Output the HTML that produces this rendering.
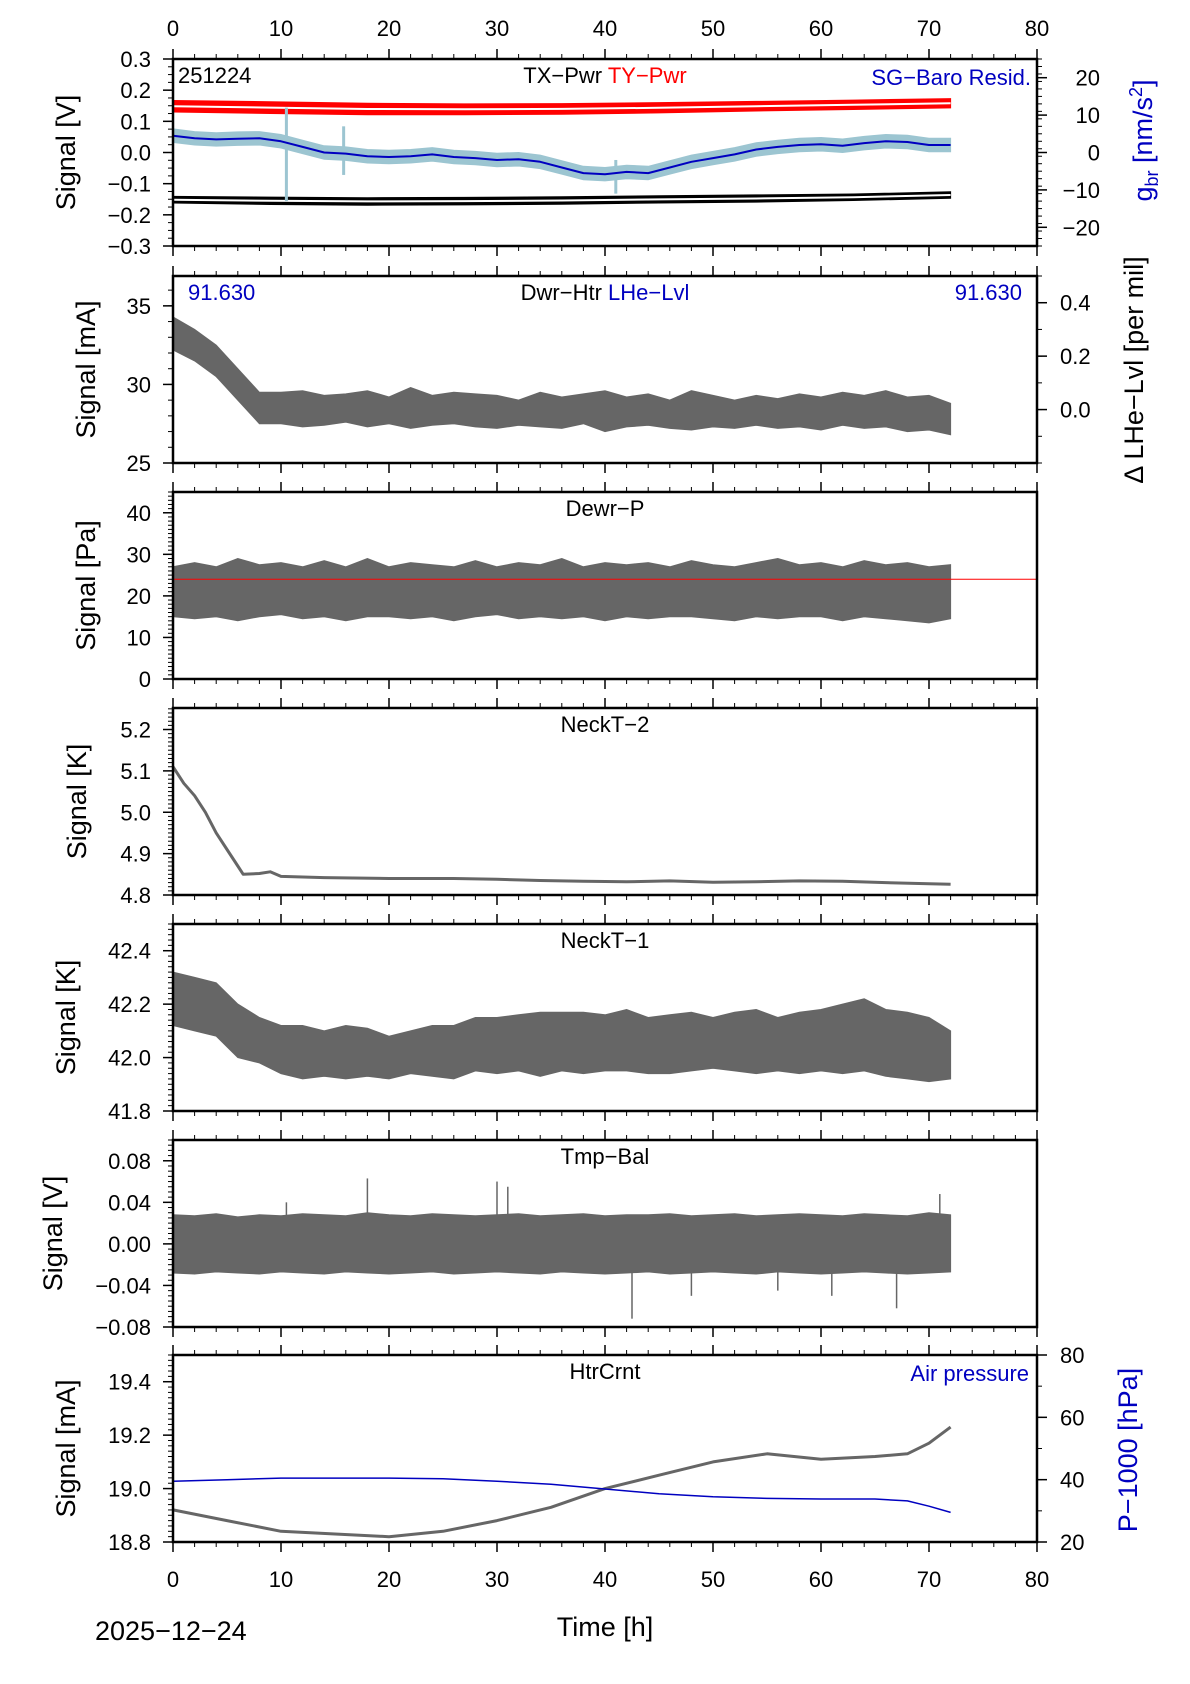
<!DOCTYPE html>
<html><head><meta charset="utf-8"><style>
body{margin:0;background:#fff;}
svg{display:block;font-family:"Liberation Sans",sans-serif;}
</style></head><body>
<svg id="chart" width="1190" height="1684" viewBox="0 0 1190 1684" xmlns="http://www.w3.org/2000/svg"></svg>
<script>
// ---- data (hours at 2h steps 0..72 unless noted) ----
const hours2 = [0,2,4,6,8,10,12,14,16,18,20,22,24,26,28,30,32,34,36,38,40,42,44,46,48,50,52,54,56,58,60,62,64,66,68,70,72];
const hours9 = [0,9,18,27,36,45,54,63,72];
const tyPwrUpper = [0.160,0.156,0.151,0.149,0.150,0.153,0.157,0.161,0.166];
const tyPwrLower = [0.137,0.132,0.128,0.128,0.130,0.134,0.140,0.145,0.150];
const txPwrUpper = [-0.145,-0.147,-0.149,-0.148,-0.146,-0.143,-0.140,-0.137,-0.130];
const txPwrLower = [-0.158,-0.163,-0.165,-0.164,-0.162,-0.158,-0.155,-0.150,-0.143];
const baroResid = [4.5,3.8,3.5,3.7,3.8,3.0,1.5,0,-0.3,-1,-1.2,-1,-0.5,-1.2,-1.5,-2,-1.8,-2.5,-4,-5.5,-5.8,-5.2,-5.5,-4,-2.5,-1.5,-0.5,0.8,1.5,2,2.2,1.8,2.5,3,2.8,2,2];
const residSpikeHours = [10.5,15.8,41];
const residSpikeTop = [12,7,-2];
const residSpikeBottom = [-13,-6,-11];
const dwrHtrHi = [34.3,33.5,32.5,31,29.5,29.5,29.6,29.3,29.4,29.6,29.2,29.8,29.3,29.5,29.4,29.3,29.0,29.5,29.2,29.4,29.6,29.2,29.4,29.0,29.6,29.3,29.0,29.3,29.1,29.4,29.2,29.5,29.3,29.6,29.2,29.3,28.8];
const dwrHtrLo = [32.2,31.5,30.5,29,27.5,27.5,27.3,27.4,27.6,27.3,27.5,27.2,27.4,27.5,27.3,27.2,27.4,27.3,27.2,27.5,27.0,27.3,27.4,27.2,27.1,27.3,27.2,27.4,27.2,27.3,27.1,27.4,27.2,27.3,27.0,27.1,26.8];
const dewrPHi = [27,28,27,29,27.5,28,27,28.5,27,29,27,28,27.5,27,28.5,27,28,27.5,29,27,28,27.5,28,27,28.5,27.5,27,28,29,27.5,28,27,28.5,27.5,28,27,27.5];
const dewrPLo = [15,14.5,15,14,15,15.5,14.5,15,14,15,15,14.5,15,14,15,15.5,14.5,15,14.5,15,14,15,14.5,15,15,14.5,14,15,14.5,15,15,14,15,14.5,14,13.5,14.5];
const dewrPSetpoint = 24;
const neckT2Hours = [0,1,2,3,4,5,6,6.5,8,9,10,14,20,26,30,34,38,42,46,50,54,58,62,66,70,72];
const neckT2 = [5.11,5.07,5.04,5.00,4.95,4.91,4.87,4.85,4.852,4.856,4.845,4.842,4.840,4.840,4.838,4.835,4.833,4.832,4.834,4.831,4.832,4.834,4.833,4.830,4.827,4.826];
const neckT1Hi = [42.32,42.3,42.28,42.2,42.15,42.12,42.12,42.1,42.12,42.11,42.08,42.1,42.12,42.12,42.15,42.15,42.16,42.17,42.17,42.17,42.16,42.18,42.15,42.16,42.17,42.15,42.17,42.18,42.15,42.17,42.18,42.2,42.22,42.18,42.17,42.15,42.1];
const neckT1Lo = [42.12,42.1,42.08,42.0,41.98,41.94,41.92,41.93,41.92,41.93,41.92,41.94,41.93,41.92,41.95,41.94,41.95,41.93,41.95,41.94,41.95,41.95,41.94,41.94,41.95,41.96,41.95,41.94,41.95,41.94,41.95,41.94,41.95,41.93,41.92,41.91,41.92];
const tmpBalHi = [0.028,0.027,0.029,0.026,0.028,0.027,0.029,0.028,0.027,0.03,0.028,0.027,0.029,0.028,0.027,0.028,0.029,0.027,0.028,0.029,0.027,0.028,0.028,0.029,0.027,0.028,0.029,0.027,0.028,0.029,0.028,0.027,0.029,0.028,0.027,0.03,0.028];
const tmpBalLo = [-0.028,-0.029,-0.027,-0.028,-0.029,-0.027,-0.028,-0.029,-0.027,-0.028,-0.029,-0.028,-0.027,-0.029,-0.028,-0.027,-0.028,-0.029,-0.027,-0.028,-0.029,-0.028,-0.027,-0.029,-0.028,-0.027,-0.028,-0.029,-0.027,-0.028,-0.029,-0.028,-0.027,-0.028,-0.029,-0.028,-0.027];
const tmpBalSpikeHours = [10.5,18,30,31,42.5,48,56,61,67,71];
const tmpBalSpikeVals = [0.04,0.063,0.06,0.055,-0.072,-0.05,-0.045,-0.05,-0.062,0.048];
const htrHours = [0,5,10,15,20,25,30,35,40,45,50,55,60,65,68,70,72];
const htrCrnt = [18.92,18.88,18.84,18.83,18.82,18.84,18.88,18.93,19.0,19.05,19.1,19.13,19.11,19.12,19.13,19.17,19.23];
const airPress = [39.5,40,40.5,40.5,40.5,40.3,39.5,38.5,37,35.5,34.5,34,33.8,33.8,33.2,31.5,29.5];
const xTickLabels = ["0","10","20","30","40","50","60","70","80"];

// ---- layout ----
const svg = document.getElementById('chart');
const NS = 'http://www.w3.org/2000/svg';
const X0 = 173, X1 = 1037, PH = 187;
const FS = 22, TFS = 27;
const tops = [59,276,492,708,924,1140,1355];
const xs = t => X0 + t / 80 * (X1 - X0);
function mk(tag, attrs, parent) {
  const e = document.createElementNS(NS, tag);
  for (const k in attrs) e.setAttribute(k, attrs[k]);
  (parent || svg).appendChild(e);
  return e;
}
function yScale(top, lo, hi) { return v => top + PH - (v - lo) / (hi - lo) * PH; }
function txt(x, y, s, opts, name) {
  const t = mk('text', Object.assign({x: x, y: y, 'font-size': FS, fill: '#000'}, opts || {}));
  t.textContent = s;
  
  
  return t;
}
function linePath(xsArr, ys, sy) {
  return xsArr.map((h, i) => (i ? 'L' : 'M') + xs(h).toFixed(1) + ',' + sy(ys[i]).toFixed(1)).join('');
}
function band(xsArr, hi, lo, sy, fill, name) {
  let d = linePath(xsArr, hi, sy);
  for (let i = xsArr.length - 1; i >= 0; i--) d += 'L' + xs(xsArr[i]).toFixed(1) + ',' + sy(lo[i]).toFixed(1);
  const p = mk('path', {d: d + 'Z', fill: fill, stroke: fill, 'stroke-width': 1});
  
  
  return p;
}
function line(xsArr, ys, sy, color, w, name) {
  const p = mk('path', {d: linePath(xsArr, ys, sy), fill: 'none', stroke: color, 'stroke-width': w, 'stroke-linejoin': 'round'});
  
  
  return p;
}
function yTicks(top, lo, hi, labels, minor, side, anchorX, anchor, name) {
  const sy = yScale(top, lo, hi);
  const x = side === 'left' ? X0 : X1;
  const dir = side === 'left' ? -1 : 1;
  for (let v = lo; v <= hi + 1e-9; v += minor) mk('line', {x1: x, x2: x + dir * 5, y1: sy(v), y2: sy(v), stroke: '#000', 'stroke-width': 1});
  labels.forEach(l => {
    const v = parseFloat(l.replace('−', '-'));
    mk('line', {x1: x, x2: x + dir * 10, y1: sy(v), y2: sy(v), stroke: '#000', 'stroke-width': 1.5});
    txt(anchorX, sy(v) + 8, l, {'text-anchor': anchor}, name);
  });
}
function xTicks(top) {
  [top, top + PH].forEach((y, k) => {
    const dir = k === 0 ? -1 : 1;
    for (let t = 0; t <= 80; t += 2) {
      const len = t % 10 === 0 ? 10 : 5;
      mk('line', {x1: xs(t), x2: xs(t), y1: y, y2: y + dir * len, stroke: '#000', 'stroke-width': t % 10 === 0 ? 1.5 : 1});
    }
  });
}
function frame(top, name) {
  const r = mk('rect', {x: X0, y: top, width: X1 - X0, height: PH, fill: 'none', stroke: '#000', 'stroke-width': 2.5});
  
  
}
function vtitle(x, y, s, color, name) {
  return txt(x, y, s, {'font-size': TFS, fill: color, 'text-anchor': 'middle', transform: 'rotate(-90 ' + x + ' ' + y + ')'}, name);
}
const GRAY = '#666';

// ---- panel 1 ----
{
  const top = tops[0];
  const sy = yScale(top, -0.3, 0.3), syR = yScale(top, -25, 25);
  band(hours9, tyPwrUpper.map(v => v + 0.007), tyPwrLower.map(v => v - 0.007), sy, '#f00', 'ty-pwr-band');
  line(hours9, tyPwrUpper.map((v, i) => (v + tyPwrLower[i]) / 2), sy, '#fff', 2, 'ty-pwr-fit');
  band(hours9, txPwrUpper.map(v => v + 0.004), txPwrLower.map(v => v - 0.004), sy, '#000', 'tx-pwr-band');
  line(hours9, txPwrUpper.map((v, i) => (v + txPwrLower[i]) / 2), sy, '#fff', 2, 'tx-pwr-fit');
  band(hours2, baroResid.map(v => v + 1.8), baroResid.map(v => v - 1.8), syR, '#9cc5d1', 'baro-resid-raw');
  residSpikeHours.forEach((h, i) => {
    const s = mk('line', {x1: xs(h), x2: xs(h), y1: syR(residSpikeTop[i]), y2: syR(residSpikeBottom[i]), stroke: '#9cc5d1', 'stroke-width': 3});
    
    
  });
  line(hours2, baroResid, syR, '#0000c0', 2, 'baro-resid-smooth');
  frame(top, 'panel-tx-ty-pwr');
  xTicks(top);
  xTickLabels.forEach((l, i) => txt(xs(i * 10), 36, l, {'text-anchor': 'middle'}, 'top-x-tick-label'));
  yTicks(top, -0.3, 0.3, ['0.3','0.2','0.1','0.0','−0.1','−0.2','−0.3'], 0.025, 'left', 151, 'end', 'y-tick-label');
  yTicks(top, -25, 25, ['20','10','0','−10','−20'], 2, 'right', 1100, 'end', 'right-y-tick-label');
  txt(178, top + 24, '251224', {}, 'station-date-code');
  const t = txt(605, top + 24, '', {'text-anchor': 'middle'}, 'panel-title');
  const a = mk('tspan', {}, t); a.textContent = 'TX−Pwr ';
  const b = mk('tspan', {fill: '#f00'}, t); b.textContent = 'TY−Pwr';
  txt(1031, top + 26, 'SG−Baro Resid.', {'text-anchor': 'end', fill: '#0000c0'}, 'legend-sg-baro-resid');
  vtitle(75, top + PH / 2, 'Signal [V]', '#000', 'y-axis-title');
  const g = vtitle(1152, top + PH / 2 - 12, '', '#0000c0', 'right-y-axis-title');
  const g1 = mk('tspan', {}, g); g1.textContent = 'g';
  const g2 = mk('tspan', {'font-size': 18, dy: 6}, g); g2.textContent = 'br';
  const g3 = mk('tspan', {dy: -6}, g); g3.textContent = ' [nm/s';
  const g4 = mk('tspan', {'font-size': 18, dy: -10}, g); g4.textContent = '2';
  const g5 = mk('tspan', {dy: 10}, g); g5.textContent = ']';
}
// ---- panel 2 ----
{
  const top = tops[1];
  const sy = yScale(top, 25, 36.9);
  band(hours2, dwrHtrHi, dwrHtrLo, sy, GRAY, 'dwr-htr-series');
  frame(top, 'panel-dwr-htr');
  xTicks(top);
  yTicks(top, 25, 36.9, ['35','30','25'], 1, 'left', 151, 'end', 'y-tick-label');
  yTicks(top, -0.2, 0.5, ['0.4','0.2','0.0'], 0.1, 'right', 1060, 'start', 'right-y-tick-label');
  txt(188, top + 24, '91.630', {fill: '#0000c0'}, 'lhe-level-start');
  txt(1022, top + 24, '91.630', {fill: '#0000c0', 'text-anchor': 'end'}, 'lhe-level-end');
  const t = txt(605, top + 24, '', {'text-anchor': 'middle'}, 'panel-title');
  const a = mk('tspan', {}, t); a.textContent = 'Dwr−Htr  ';
  const b = mk('tspan', {fill: '#0000c0'}, t); b.textContent = 'LHe−Lvl';
  vtitle(95, top + PH / 2, 'Signal [mA]', '#000', 'y-axis-title');
  vtitle(1143, 370, 'Δ LHe−Lvl [per mil]', '#000', 'right-y-axis-title');
}
// ---- panel 3 ----
{
  const top = tops[2];
  const sy = yScale(top, 0, 45);
  band(hours2, dewrPHi, dewrPLo, sy, GRAY, 'dewr-p-series');
  const r = mk('line', {x1: X0, x2: X1, y1: sy(dewrPSetpoint), y2: sy(dewrPSetpoint), stroke: '#f00', 'stroke-width': 1});
  
  
  frame(top, 'panel-dewr-p');
  xTicks(top);
  yTicks(top, 0, 45, ['40','30','20','10','0'], 1, 'left', 151, 'end', 'y-tick-label');
  txt(605, top + 24, 'Dewr−P', {'text-anchor': 'middle'}, 'panel-title');
  vtitle(95, top + PH / 2, 'Signal [Pa]', '#000', 'y-axis-title');
}
// ---- panel 4 ----
{
  const top = tops[3];
  const sy = yScale(top, 4.8, 5.252);
  line(neckT2Hours, neckT2, sy, GRAY, 3, 'neck-t2-series');
  frame(top, 'panel-neck-t2');
  xTicks(top);
  yTicks(top, 4.8, 5.252, ['5.2','5.1','5.0','4.9','4.8'], 0.01, 'left', 151, 'end', 'y-tick-label');
  txt(605, top + 24, 'NeckT−2', {'text-anchor': 'middle'}, 'panel-title');
  vtitle(86, top + PH / 2, 'Signal [K]', '#000', 'y-axis-title');
}
// ---- panel 5 ----
{
  const top = tops[4];
  const sy = yScale(top, 41.8, 42.5);
  band(hours2, neckT1Hi, neckT1Lo, sy, GRAY, 'neck-t1-series');
  frame(top, 'panel-neck-t1');
  xTicks(top);
  yTicks(top, 41.8, 42.5, ['42.4','42.2','42.0','41.8'], 0.02, 'left', 151, 'end', 'y-tick-label');
  txt(605, top + 24, 'NeckT−1', {'text-anchor': 'middle'}, 'panel-title');
  vtitle(75, top + PH / 2, 'Signal [K]', '#000', 'y-axis-title');
}
// ---- panel 6 ----
{
  const top = tops[5];
  const sy = yScale(top, -0.08, 0.1);
  band(hours2, tmpBalHi, tmpBalLo, sy, GRAY, 'tmp-bal-series');
  tmpBalSpikeHours.forEach((h, i) => {
    const s = mk('line', {x1: xs(h), x2: xs(h), y1: sy(0), y2: sy(tmpBalSpikeVals[i]), stroke: GRAY, 'stroke-width': 1.5});
    
    
  });
  frame(top, 'panel-tmp-bal');
  xTicks(top);
  yTicks(top, -0.08, 0.1, ['0.08','0.04','0.00','−0.04','−0.08'], 0.005, 'left', 151, 'end', 'y-tick-label');
  txt(605, top + 24, 'Tmp−Bal', {'text-anchor': 'middle'}, 'panel-title');
  vtitle(62, top + PH / 2, 'Signal [V]', '#000', 'y-axis-title');
}
// ---- panel 7 ----
{
  const top = tops[6];
  const sy = yScale(top, 18.8, 19.5), syR = yScale(top, 20, 80);
  line(htrHours, htrCrnt, sy, GRAY, 3, 'htr-crnt-series');
  line(htrHours, airPress, syR, '#0000c0', 1.5, 'air-pressure-series');
  frame(top, 'panel-htr-crnt');
  xTicks(top);
  yTicks(top, 18.8, 19.5, ['19.4','19.2','19.0','18.8'], 0.02, 'left', 151, 'end', 'y-tick-label');
  yTicks(top, 20, 80, ['80','60','40','20'], 10, 'right', 1060, 'start', 'right-y-tick-label');
  txt(605, top + 24, 'HtrCrnt', {'text-anchor': 'middle'}, 'panel-title');
  txt(1029, top + 26, 'Air pressure', {'text-anchor': 'end', fill: '#0000c0'}, 'legend-air-pressure');
  vtitle(75, top + PH / 2, 'Signal [mA]', '#000', 'y-axis-title');
  vtitle(1137, 1450, 'P−1000 [hPa]', '#0000c0', 'right-y-axis-title');
  xTickLabels.forEach((l, i) => txt(xs(i * 10), 1587, l, {'text-anchor': 'middle'}, 'bottom-x-tick-label'));
  txt(605, 1636, 'Time [h]', {'text-anchor': 'middle', 'font-size': 27}, 'x-axis-title');
  txt(95, 1640, '2025−12−24', {'font-size': 27}, 'date-label');
}
</script>
</body></html>
